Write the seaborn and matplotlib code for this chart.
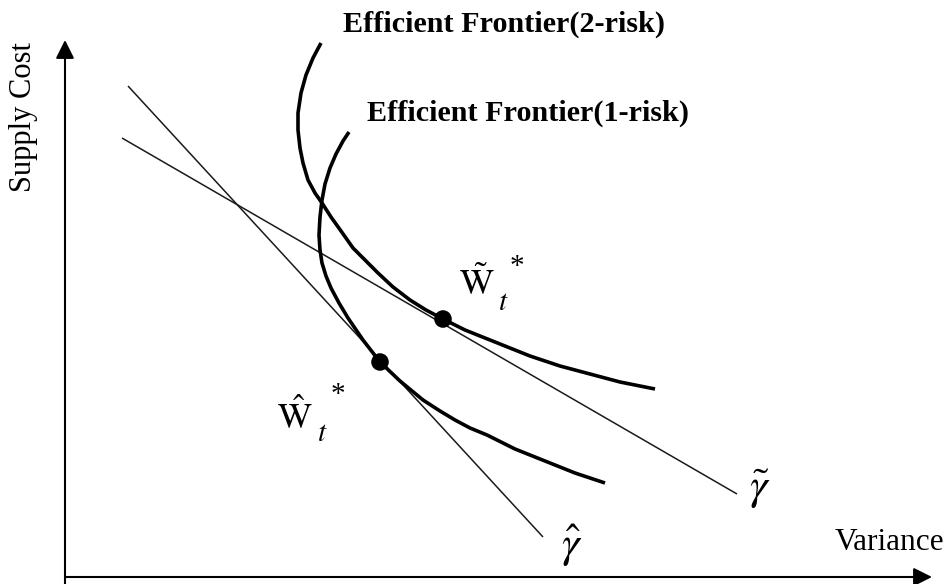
import matplotlib
matplotlib.use("Agg")
import matplotlib.pyplot as plt
import seaborn as sns
import pandas as pd

# ---- data (diagram units: x = variance, y = supply cost) ----
f2_x = [321, 313, 306, 301, 298, 298, 300, 303, 308, 315, 322, 331, 341, 353, 366, 378,
        393, 410, 426, 443, 465, 490, 510, 530, 560, 590, 620, 655]
f2_y = [541, 526, 509, 491, 471, 454, 436, 421, 404, 391, 381, 367, 353, 336, 323, 311,
        297, 284, 274, 265, 254, 244, 236, 228, 218, 210, 202, 195]

f1_x = [349, 343, 336, 330, 325, 322, 320, 319, 320, 322, 326, 331, 339, 348, 363, 380,
        400, 423, 440, 455, 470, 487, 515, 545, 575, 605]
f1_y = [452, 443, 430, 416, 400, 384, 367, 349, 334, 321, 308, 296, 281, 266, 244, 222,
        203, 184, 173, 164, 156, 149, 135, 123, 111, 101]

line_hat_x = [128, 543]
line_hat_y = [498, 47]
line_tilde_x = [122, 737]
line_tilde_y = [446, 90]

opt_x = [443, 380]
opt_y = [265, 222]

sns.set_style("white")
plt.rcParams["font.family"] = ["Liberation Serif", "DejaVu Serif"]
plt.rcParams["mathtext.fontset"] = "stix"
plt.rcParams["text.color"] = "black"

fig = plt.figure(figsize=(9.49, 5.84), dpi=100)
ax = fig.add_axes([0, 0, 1, 1])
ax.set_xlim(0, 949)
ax.set_ylim(0, 584)
ax.set_axis_off()

sns.lineplot(data=pd.DataFrame({"x": line_hat_x, "y": line_hat_y}), x="x", y="y",
             sort=False, estimator=None, color="#1a1a1a", lw=1.1, ax=ax)
sns.lineplot(data=pd.DataFrame({"x": line_tilde_x, "y": line_tilde_y}), x="x", y="y",
             sort=False, estimator=None, color="#1a1a1a", lw=1.1, ax=ax)
sns.lineplot(data=pd.DataFrame({"x": f2_x, "y": f2_y}), x="x", y="y", sort=False,
             estimator=None, color="black", lw=2.6, ax=ax)
sns.lineplot(data=pd.DataFrame({"x": f1_x, "y": f1_y}), x="x", y="y", sort=False,
             estimator=None, color="black", lw=2.6, ax=ax)
for ln in ax.lines:
    ln.set_solid_joinstyle("round")
    ln.set_solid_capstyle("butt")
sns.scatterplot(x=opt_x, y=opt_y, color="black", s=160, edgecolor="none", ax=ax, zorder=5)

# axes arrows
arrow = dict(arrowstyle="-|>", lw=1.5, color="black", mutation_scale=28, shrinkA=0, shrinkB=0)
ax.annotate("", xy=(65, 544), xytext=(65, -5), arrowprops=arrow)
ax.annotate("", xy=(932, 7), xytext=(65, 7), arrowprops=arrow)

# texts
ax.text(343, 584 - 32, "Efficient Frontier(2-risk)", fontsize=21.7, fontweight="bold", va="baseline", ha="left")
ax.text(367, 584 - 121, "Efficient Frontier(1-risk)", fontsize=21.7, fontweight="bold", va="baseline", ha="left")
ax.text(835, 584 - 550, "Variance", fontsize=22.5, va="baseline", ha="left")
ax.text(24, 584 - 117, "Supply Cost", fontsize=22, rotation=90, va="center", ha="center")

# point labels
ax.text(459, 584 - 295, r"$\tilde{\mathrm{W}}$", fontsize=26, va="baseline", ha="left")
ax.text(498, 584 - 310, r"$t$", fontsize=21, va="baseline", ha="left")
ax.text(510, 584 - 274, "*", fontsize=21, va="baseline", ha="left")
ax.text(277, 584 - 429, r"$\hat{\mathrm{W}}$", fontsize=26, va="baseline", ha="left")
ax.text(317, 584 - 441, r"$t$", fontsize=21, va="baseline", ha="left")
ax.text(331, 584 - 402, "*", fontsize=21, va="baseline", ha="left")

ax.text(749, 584 - 500, r"$\tilde{\gamma}$", fontsize=32, va="baseline", ha="left")
ax.text(561, 584 - 558, r"$\hat{\gamma}$", fontsize=32, va="baseline", ha="left")

fig.savefig("out.png", dpi=100)
